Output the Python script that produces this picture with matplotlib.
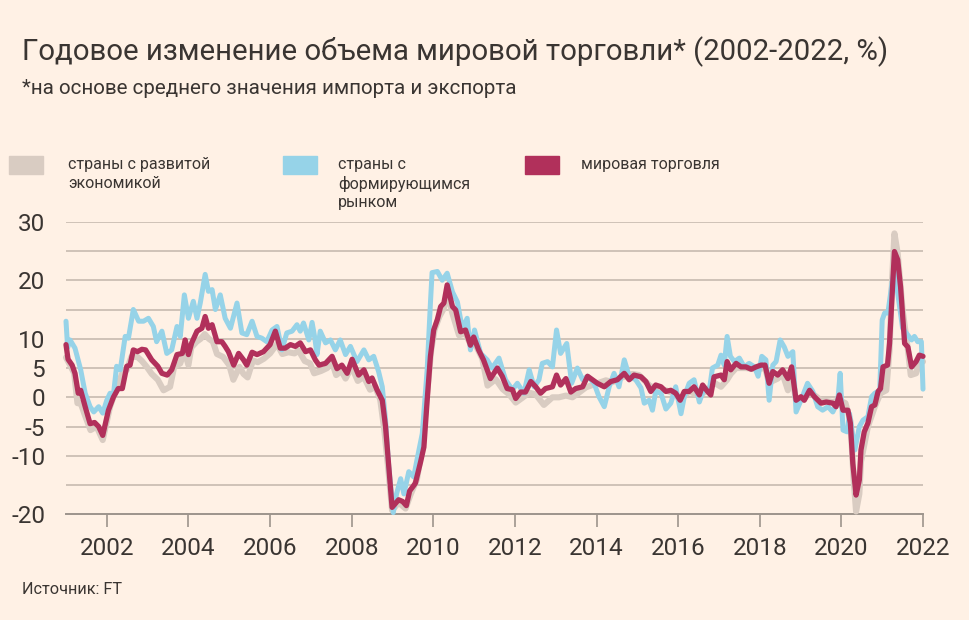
import matplotlib
matplotlib.use("Agg")
import matplotlib.pyplot as plt
import numpy as np

# ---------------- data ----------------
world_t = [2001.00, 2001.05, 2001.15, 2001.22, 2001.30, 2001.36, 2001.47, 2001.59, 2001.70, 2001.80,
           2001.90, 2002.04, 2002.16, 2002.28, 2002.38, 2002.49, 2002.57, 2002.65, 2002.75, 2002.86,
           2002.95, 2003.10, 2003.25, 2003.35, 2003.48, 2003.59, 2003.72, 2003.85, 2003.92, 2004.00,
           2004.08, 2004.21, 2004.33, 2004.41, 2004.49, 2004.58, 2004.70, 2004.82, 2004.90, 2004.98,
           2005.11, 2005.23, 2005.35, 2005.43, 2005.56, 2005.68, 2005.84, 2006.00, 2006.13, 2006.25,
           2006.37, 2006.50, 2006.62, 2006.74, 2006.87, 2006.99, 2007.11, 2007.20, 2007.36, 2007.52,
           2007.64, 2007.76, 2007.89, 2008.01, 2008.17, 2008.30, 2008.42, 2008.50, 2008.62, 2008.75,
           2008.83, 2008.91, 2008.99, 2009.15, 2009.25, 2009.34, 2009.42, 2009.56, 2009.69, 2009.77,
           2009.85, 2009.93, 2010.01, 2010.10, 2010.18, 2010.26, 2010.34, 2010.47, 2010.55, 2010.67,
           2010.79, 2010.91, 2010.99, 2011.11, 2011.23, 2011.40, 2011.57, 2011.69, 2011.81, 2011.94,
           2012.02, 2012.14, 2012.26, 2012.39, 2012.51, 2012.63, 2012.75, 2012.92, 2013.02, 2013.12,
           2013.25, 2013.37, 2013.49, 2013.66, 2013.78, 2013.90, 2014.02, 2014.19, 2014.35, 2014.51,
           2014.68, 2014.80, 2014.92, 2015.09, 2015.21, 2015.33, 2015.45, 2015.58, 2015.70, 2015.82,
           2015.94, 2016.05, 2016.15, 2016.27, 2016.39, 2016.52, 2016.60, 2016.72, 2016.80, 2016.88,
           2017.05, 2017.13, 2017.20, 2017.29, 2017.42, 2017.54, 2017.66, 2017.79, 2017.91, 2018.03,
           2018.13, 2018.23, 2018.32, 2018.44, 2018.56, 2018.69, 2018.78, 2018.89, 2019.01, 2019.09,
           2019.22, 2019.34, 2019.50, 2019.63, 2019.79, 2019.87, 2019.95, 2020.04, 2020.16, 2020.22,
           2020.28, 2020.36, 2020.44, 2020.48, 2020.56, 2020.65, 2020.74, 2020.82, 2020.90, 2020.96,
           2021.02, 2021.13, 2021.18, 2021.24, 2021.30, 2021.38, 2021.45, 2021.55, 2021.63, 2021.72,
           2021.83, 2021.91, 2022.00]
world_v = [9.0, 6.5, 5.5, 4.1, 0.7, 1.2, -1.6, -4.5, -4.3, -5.0,
           -6.5, -2.2, 0.0, 1.5, 1.5, 5.3, 5.5, 8.1, 7.8, 8.2,
           8.1, 6.4, 5.3, 4.1, 3.8, 4.7, 7.3, 7.5, 9.8, 7.3,
           9.3, 11.3, 11.8, 13.8, 11.8, 12.4, 9.5, 9.5, 8.7, 7.8,
           5.5, 7.5, 6.4, 5.5, 7.7, 7.3, 7.8, 9.0, 11.3, 8.4,
           8.4, 9.0, 8.7, 9.3, 7.8, 8.1, 6.4, 5.5, 5.8, 7.0,
           4.9, 5.5, 4.1, 6.5, 3.8, 4.7, 2.7, 3.3, 1.3, -0.5,
           -5.0, -11.9, -18.8, -17.5, -17.8, -18.5, -16.0, -14.7, -11.0, -8.5,
           -0.5, 7.0, 11.5, 13.3, 15.5, 16.1, 19.2, 15.5, 14.9, 11.2,
           11.5, 8.9, 10.3, 8.1, 6.4, 3.2, 5.0, 3.6, 1.5, 1.3,
           -0.2, 0.9, 0.9, 2.7, 1.8, 0.7, 1.5, 1.8, 3.8, 2.1,
           3.2, 0.9, 1.5, 1.8, 3.6, 3.0, 2.4, 1.8, 2.7, 3.0,
           4.1, 3.0, 3.8, 3.5, 2.7, 1.0, 2.1, 1.8, 1.0, 1.2,
           0.7, -0.5, 1.0, 1.0, 1.8, 0.4, 2.1, 1.0, 0.4, 3.5,
           3.8, 3.0, 6.1, 4.7, 5.8, 5.2, 5.2, 4.8, 5.2, 5.5,
           5.5, 2.4, 4.4, 3.8, 4.7, 3.2, 5.2, -0.5, 0.1, -0.5,
           1.2, 0.1, -1.0, -0.8, -1.0, -1.6, 0.4, -2.2, -2.2, -4.4,
           -11.3, -16.7, -14.1, -9.0, -5.9, -4.4, -1.6, -1.3, 1.0, 1.5,
           5.2, 5.5, 9.2, 17.2, 24.9, 23.5, 18.9, 9.2, 8.6, 5.2,
           6.1, 7.2, 7.0]

emerging_t = [2001.00, 2001.04, 2001.10, 2001.22, 2001.36, 2001.47, 2001.59, 2001.68, 2001.80, 2001.90,
              2002.00, 2002.08, 2002.16, 2002.24, 2002.33, 2002.45, 2002.53, 2002.65, 2002.78, 2002.90,
              2003.02, 2003.14, 2003.22, 2003.35, 2003.47, 2003.59, 2003.72, 2003.80, 2003.90, 2004.00,
              2004.12, 2004.21, 2004.29, 2004.41, 2004.49, 2004.58, 2004.66, 2004.78, 2004.90, 2005.03,
              2005.19, 2005.31, 2005.43, 2005.56, 2005.68, 2005.80, 2005.92, 2006.05, 2006.17, 2006.29,
              2006.41, 2006.54, 2006.66, 2006.74, 2006.82, 2006.95, 2007.03, 2007.10, 2007.15, 2007.23,
              2007.36, 2007.48, 2007.60, 2007.72, 2007.85, 2007.97, 2008.13, 2008.30, 2008.42, 2008.54,
              2008.66, 2008.75, 2008.83, 2008.91, 2009.02, 2009.10, 2009.20, 2009.28, 2009.40, 2009.52,
              2009.60, 2009.73, 2009.85, 2009.93, 2009.97, 2010.10, 2010.22, 2010.34, 2010.47, 2010.59,
              2010.71, 2010.83, 2010.91, 2011.01, 2011.16, 2011.32, 2011.44, 2011.61, 2011.77, 2011.94,
              2012.06, 2012.22, 2012.35, 2012.47, 2012.59, 2012.67, 2012.80, 2012.92, 2013.02, 2013.12,
              2013.27, 2013.39, 2013.53, 2013.66, 2013.78, 2013.94, 2014.06, 2014.19, 2014.31, 2014.43,
              2014.55, 2014.68, 2014.80, 2014.96, 2015.09, 2015.17, 2015.29, 2015.37, 2015.45, 2015.58,
              2015.70, 2015.82, 2015.94, 2016.07, 2016.15, 2016.27, 2016.39, 2016.52, 2016.64, 2016.76,
              2016.84, 2016.97, 2017.05, 2017.13, 2017.20, 2017.28, 2017.38, 2017.50, 2017.62, 2017.74,
              2017.87, 2017.96, 2018.05, 2018.15, 2018.23, 2018.32, 2018.40, 2018.50, 2018.60, 2018.69,
              2018.81, 2018.89, 2019.01, 2019.17, 2019.30, 2019.42, 2019.54, 2019.67, 2019.79, 2019.91,
              2019.97, 2020.04, 2020.14, 2020.20, 2020.33, 2020.44, 2020.53, 2020.65, 2020.74, 2020.82,
              2020.94, 2021.00, 2021.06, 2021.14, 2021.25, 2021.30, 2021.38, 2021.50, 2021.63, 2021.72,
              2021.79, 2021.87, 2021.96, 2022.00]
emerging_v = [13.0, 8.5, 9.8, 8.4, 4.7, 0.7, -1.6, -2.5, -1.6, -2.7,
              -0.5, 0.7, 0.3, 5.3, 4.7, 10.4, 10.1, 15.0, 13.0, 13.0,
              13.5, 12.1, 9.5, 11.3, 7.5, 8.1, 12.1, 10.4, 17.5, 13.5,
              16.4, 13.5, 16.1, 21.0, 18.1, 18.4, 15.0, 17.5, 13.5, 11.8,
              16.1, 11.0, 10.7, 13.0, 10.4, 10.1, 9.5, 11.5, 12.1, 8.1,
              11.0, 11.3, 12.4, 11.3, 12.7, 9.8, 12.8, 10.0, 7.3, 11.3,
              9.3, 9.8, 8.1, 9.8, 7.3, 8.7, 6.1, 8.1, 6.4, 7.0,
              4.4, 1.8, -3.9, -11.9, -19.7, -16.5, -13.9, -16.5, -12.7, -13.6,
              -10.7, -6.2, 4.7, 16.1, 21.3, 21.5, 20.0, 21.2, 18.0, 16.3,
              11.8, 13.5, 8.1, 11.5, 7.5, 6.4, 5.0, 6.7, 3.0, 1.3,
              2.4, 0.7, 4.7, 1.8, 3.0, 5.8, 6.1, 5.2, 11.5, 7.5,
              9.2, 2.4, 5.0, 3.0, 3.6, 2.4, 0.1, -1.6, 1.8, 4.1,
              1.8, 6.4, 3.6, 3.0, 1.6, -1.0, -0.5, -2.2, 1.0, 0.7,
              -2.0, -1.0, 1.8, -2.8, 0.1, 2.4, 3.0, -0.8, 1.6, 1.0,
              5.0, 5.5, 7.2, 5.5, 10.4, 7.0, 6.1, 6.7, 5.2, 5.8,
              5.2, 3.6, 7.0, 6.4, -0.5, 5.5, 6.1, 9.8, 8.6, 7.0,
              7.8, -2.5, -0.5, 2.4, 1.0, -1.6, -2.2, -1.6, -2.5, -0.8,
              4.1, -5.6, -5.9, -2.8, -9.0, -5.0, -3.9, -3.3, 0.1, 0.7,
              1.2, 13.2, 14.4, 14.4, 20.0, 22.0, 17.8, 11.8, 10.6, 9.8,
              10.4, 9.5, 9.5, 1.4]

developed_t = [2001.00, 2001.10, 2001.20, 2001.28, 2001.36, 2001.45, 2001.60, 2001.75, 2001.90, 2002.08,
               2002.22, 2002.38, 2002.49, 2002.60, 2002.75, 2002.86, 2002.98, 2003.10, 2003.25, 2003.39,
               2003.55, 2003.65, 2003.80, 2003.90, 2004.00, 2004.07, 2004.20, 2004.30, 2004.40, 2004.50,
               2004.60, 2004.70, 2004.85, 2005.00, 2005.10, 2005.25, 2005.35, 2005.45, 2005.58, 2005.70,
               2005.85, 2006.00, 2006.17, 2006.30, 2006.45, 2006.60, 2006.70, 2006.85, 2006.98, 2007.08,
               2007.25, 2007.40, 2007.52, 2007.62, 2007.75, 2007.85, 2008.00, 2008.15, 2008.30, 2008.45,
               2008.58, 2008.70, 2008.80, 2008.90, 2008.99, 2009.15, 2009.32, 2009.45, 2009.60, 2009.72,
               2009.82, 2009.95, 2010.03, 2010.15, 2010.26, 2010.34, 2010.47, 2010.63, 2010.79, 2010.92,
               2011.04, 2011.20, 2011.33, 2011.53, 2011.70, 2011.86, 2012.02, 2012.18, 2012.35, 2012.51,
               2012.71, 2012.92, 2013.08, 2013.25, 2013.41, 2013.57, 2013.74, 2013.98, 2014.23, 2014.39,
               2014.63, 2014.88, 2015.04, 2015.30, 2015.45, 2015.70, 2015.94, 2016.05, 2016.27, 2016.52,
               2016.72, 2016.88, 2017.05, 2017.20, 2017.29, 2017.42, 2017.66, 2017.91, 2018.13, 2018.23,
               2018.44, 2018.56, 2018.69, 2018.78, 2018.89, 2019.09, 2019.22, 2019.50, 2019.79, 2019.95,
               2020.10, 2020.22, 2020.30, 2020.36, 2020.44, 2020.48, 2020.65, 2020.82, 2020.96, 2021.10,
               2021.18, 2021.24, 2021.30, 2021.38, 2021.50, 2021.63, 2021.70, 2021.83, 2021.92, 2022.00]
developed_v = [6.8, 5.5, 4.1, -1.0, -1.0, -2.8, -5.6, -5.0, -7.3, -1.6,
               1.2, 4.1, 4.7, 6.9, 6.9, 6.2, 5.2, 4.0, 3.0, 1.2,
               1.8, 5.2, 5.8, 8.0, 5.5, 8.5, 9.5, 10.0, 10.8, 10.0,
               9.5, 7.4, 6.9, 5.5, 3.0, 5.2, 4.0, 3.4, 6.3, 6.0,
               6.6, 7.5, 9.1, 7.4, 7.7, 7.5, 8.0, 6.2, 5.8, 4.1,
               4.5, 5.0, 6.0, 3.8, 4.5, 3.2, 5.2, 2.8, 3.5, 1.3,
               1.8, -0.4, -5.6, -12.5, -19.3, -18.0, -19.0, -16.5, -14.0, -8.9,
               -1.5, 8.1, 11.5, 13.8, 15.2, 18.0, 14.3, 10.6, 10.9, 8.9,
               8.9, 6.6, 2.0, 3.1, 1.4, 0.5, -0.9, -0.1, 0.8, 0.5,
               -1.3, 0.0, 0.0, 0.3, 0.0, 0.8, 1.7, 2.3, 2.9, 2.6,
               3.4, 4.0, 3.8, 2.0, 1.5, 1.2, 0.5, -0.5, 1.0, 0.3,
               1.2, 2.5, 1.8, 3.0, 4.0, 5.0, 5.0, 4.8, 5.0, 2.5,
               3.2, 4.0, 1.2, 4.0, -0.5, -0.3, 1.0, -0.5, -0.8, -0.5,
               -1.0, -4.0, -14.0, -19.5, -16.5, -11.0, -5.0, -1.6, 0.7, 1.2,
               8.0, 19.8, 28.0, 24.6, 15.0, 8.1, 3.8, 4.1, 6.1, 6.1]

series_labels = ["страны с развитой\nэкономикой", "страны с\nформирующимся\nрынком", "мировая торговля"]
y_ticks = [-20, -15, -10, -5, 0, 5, 10, 15, 20, 25, 30]
y_ticklabels = ["-20", "", "-10", "-5", "0", "5", "10", "", "20", "", "30"]
x_ticks = list(range(2002, 2023, 2))

title = "Годовое изменение объема мировой торговли* (2002-2022, %)"
subtitle = "*на основе среднего значения импорта и экспорта"
source = "Источник: FT"

# ---------------- style ----------------
BG = "#fff1e5"
C_DEV = "#d9ccc2"
C_EM = "#96d3e8"
C_WORLD = "#b1305b"
GRID = "#cfc2b7"
AXIS = "#9d948c"
TXT = "#3a3532"
FONT = ["Roboto", "DejaVu Sans"]
plt.rcParams["font.family"] = FONT

W, H = 970, 620
fig = plt.figure(figsize=(W / 100, H / 100), dpi=100, facecolor=BG)
ax = fig.add_axes([66 / W, 1 - 514.4 / H, (923 - 66) / W, (514.4 - 221.7) / H])
ax.set_facecolor(BG)

lw_kw = dict(solid_joinstyle="round", solid_capstyle="round", clip_on=False)
ax.plot(developed_t, developed_v, color=C_DEV, lw=4.4, zorder=3, **lw_kw)
ax.plot(emerging_t, emerging_v, color=C_EM, lw=3.6, zorder=4, **lw_kw)
ax.plot(world_t, world_v, color=C_WORLD, lw=3.8, zorder=5, **lw_kw)

ax.set_xlim(2001, 2022)
ax.set_ylim(-20, 30)
ax.set_yticks(y_ticks)
ax.set_yticklabels(y_ticklabels)
ax.set_xticks(x_ticks)
ax.set_xticklabels([str(x) for x in x_ticks])

for v in y_ticks:
    if v == -20:
        continue
    ax.axhline(v, color=GRID, lw=1.4, zorder=1)

for s in ["top", "right", "left"]:
    ax.spines[s].set_visible(False)
ax.spines["bottom"].set_color(AXIS)
ax.spines["bottom"].set_linewidth(1.4)
ax.spines["bottom"].set_zorder(2)

ax.tick_params(axis="y", length=0, pad=15, labelsize=17.5, labelcolor=TXT)
ax.tick_params(axis="x", length=9, width=1.2, color=AXIS, pad=7, labelsize=17.5, labelcolor=TXT)

# titles
fig.text(22 / W, 1 - 52 / H, title, fontsize=21.2, color=TXT, va="center", ha="left")
fig.text(22 / W, 1 - 89 / H, subtitle, fontsize=14.8, color=TXT, va="center", ha="left")
fig.text(22 / W, 1 - 590 / H, source, fontsize=11.7, color=TXT, va="center", ha="left")

# legend
from matplotlib.patches import Rectangle
leg_x = [9, 283, 525]
txt_x = [68, 338, 581]
cols = [C_DEV, C_EM, C_WORLD]
for px, tx, c, lab in zip(leg_x, txt_x, cols, series_labels):
    fig.patches.append(Rectangle((px / W, 1 - 174 / H), 34 / W, 18 / H,
                                 transform=fig.transFigure, color=c, zorder=1))
    fig.text(tx / W, 1 - 157 / H, lab, fontsize=11.5, color=TXT, va="top", ha="left",
             linespacing=1.3)

fig.savefig("out.png", dpi=100, facecolor=BG)
